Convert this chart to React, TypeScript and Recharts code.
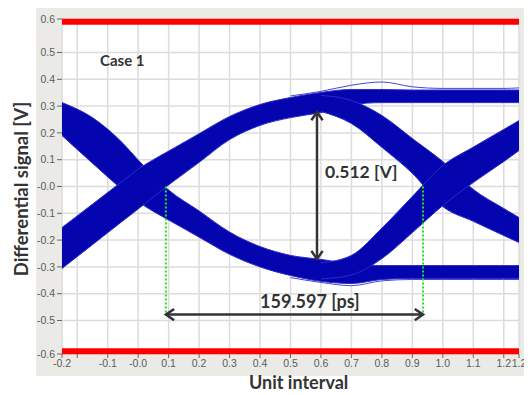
import { ComposedChart, Area, Line, XAxis, YAxis, CartesianGrid, ReferenceLine } from "recharts"

// unit-interval sample positions shared by every band
const uiSteps = [-0.25, -0.15, -0.05, 0, 0.05, 0.1, 0.2, 0.3, 0.4, 0.5, 0.6, 0.7, 0.8, 0.9, 1.0, 1.1, 1.2, 1.25]

// falling edge through the first crossing, then the low level
const fallLeftHigh = [0.313, 0.257, 0.161, 0.099, 0.04, -0.013, -0.091, -0.17, -0.224, -0.257, -0.272, -0.288, -0.295, -0.295, -0.295, -0.295, -0.295, -0.295]
const fallLeftLow = [0.19, 0.087, -0.013, -0.057, -0.093, -0.125, -0.189, -0.253, -0.3, -0.332, -0.354, -0.362, -0.347, -0.343, -0.343, -0.343, -0.343, -0.343]
// rising edge through the first crossing, then the high level
const riseLeftHigh = [-0.153, -0.066, 0.021, 0.065, 0.1, 0.132, 0.197, 0.261, 0.306, 0.332, 0.351, 0.362, 0.362, 0.36, 0.36, 0.36, 0.36, 0.36]
const riseLeftLow = [-0.306, -0.217, -0.128, -0.084, -0.039, 0.006, 0.09, 0.175, 0.228, 0.257, 0.276, 0.305, 0.313, 0.313, 0.313, 0.313, 0.313, 0.313]
// edges through the second crossing
const fallRightHigh = [null, null, null, null, null, null, null, null, null, null, 0.34, 0.321, 0.265, 0.179, 0.093, -0.011, -0.082, -0.116]
const fallRightLow = [null, null, null, null, null, null, null, null, null, null, 0.28, 0.235, 0.146, 0.049, -0.075, -0.13, -0.183, -0.209]
const riseRightHigh = [null, null, null, null, null, null, null, null, null, null, -0.285, -0.257, -0.155, -0.037, 0.078, 0.147, 0.213, 0.246]
const riseRightLow = [null, null, null, null, null, null, null, null, null, null, -0.345, -0.33, -0.269, -0.172, -0.071, 0.015, 0.093, 0.134]
// stray overshoot traces above the high level and below the low level
const overshootTop = [null, null, null, null, null, null, null, null, null, 0.338, 0.355, 0.378, 0.39, 0.372, 0.366, 0.366, 0.366, 0.368]
const overshootBottom = [null, null, null, null, null, null, null, null, null, -0.34, -0.358, -0.37, -0.352, -0.347, -0.347, -0.347, -0.347, -0.347]

const xTicks = [-0.25, -0.2, -0.1, 0, 0.1, 0.2, 0.3, 0.4, 0.5, 0.6, 0.7, 0.8, 0.9, 1.0, 1.1, 1.2, 1.25]
const xTickLabels = ["-0.2", "", "-0.1", "-0.0", "0.1", "0.2", "0.3", "0.4", "0.5", "0.6", "0.7", "0.8", "0.9", "1.0", "1.1", "1.2", "1.2"]
const yTicks = [-0.625, -0.5, -0.4, -0.3, -0.2, -0.1, 0, 0.1, 0.2, 0.3, 0.4, 0.5, 0.625]
const yTickLabels = ["-0.6", "-0.5", "-0.4", "-0.3", "-0.2", "-0.1", "-0.0", "0.1", "0.2", "0.3", "0.4", "0.5", "0.6"]

const maskLimits = [-0.615, 0.615]
const crossingX = [0.091, 0.935]
const eyeHeight = [-0.271, 0.278]
const eyeHeightAt = 0.587
const eyeWidthAt = -0.478

const range = (lo: (number | null)[], hi: (number | null)[], i: number) =>
  lo[i] == null || hi[i] == null ? null : [lo[i], hi[i]]

const rows = uiSteps.map((x, i) => ({
  x,
  fallLeft: range(fallLeftLow, fallLeftHigh, i),
  riseLeft: range(riseLeftLow, riseLeftHigh, i),
  fallRight: range(fallRightLow, fallRightHigh, i),
  riseRight: range(riseRightLow, riseRightHigh, i),
  overTop: overshootTop[i],
  overBottom: overshootBottom[i],
}))

const BLUE = "#0505b0"
const EDGE = "#2a2ac8"
const INK = "#333333"

function DoubleArrow(p: any) {
  const { x1, y1, x2, y2 } = p
  const a = Math.atan2(y2 - y1, x2 - x1)
  const h = 10
  const w = 0.6
  const head = (x: number, y: number, ang: number) =>
    `M${x + h * Math.cos(ang + w)},${y + h * Math.sin(ang + w)} L${x},${y} L${x + h * Math.cos(ang - w)},${y + h * Math.sin(ang - w)}`
  return (
    <g>
      <line x1={x1} y1={y1} x2={x2} y2={y2} stroke={INK} strokeWidth={2.5} />
      <path d={head(x1, y1, a) + " " + head(x2, y2, a + Math.PI)} fill="none" stroke={INK} strokeWidth={2.5} />
    </g>
  )
}

const tickStyle = { fontSize: 10.5, fill: "#56605c", fontFamily: "Liberation Sans, Arial, sans-serif" }
const titleStyle = { position: "absolute" as const, fontFamily: "Lato, sans-serif", fontWeight: 700, color: INK, lineHeight: 1, whiteSpace: "nowrap" as const }

export default function App() {
  return (
    <div style={{ position: "relative", width: 532, height: 395, margin: "-8px 0 0 -8px", background: "#fff" }}>
      <div style={{ position: "absolute", left: 36, top: 8, width: 494, height: 368, background: "#ebeae6" }} />
      <div style={{ position: "absolute", left: 0, top: 0 }}>
        <ComposedChart width={532} height={395} data={rows} margin={{ top: 19, right: 13, bottom: 19, left: 36 }}>
          <CartesianGrid stroke="#dcdcdc" strokeWidth={1.5} fill="#ffffff" />
          <XAxis
            type="number"
            dataKey="x"
            domain={[-0.25, 1.25]}
            ticks={xTicks}
            interval={0}
            height={22}
            tickSize={4}
            tickMargin={2}
            axisLine={false}
            tickLine={{ stroke: "#666" }}
            tick={tickStyle}
            tickFormatter={(v: number) => xTickLabels[xTicks.indexOf(v)] ?? ""}
            allowDataOverflow
          />
          <YAxis
            type="number"
            domain={[-0.625, 0.625]}
            ticks={yTicks}
            interval={0}
            width={26}
            tickSize={5}
            tickMargin={2}
            axisLine={false}
            tickLine={{ stroke: "#666" }}
            tick={tickStyle}
            tickFormatter={(v: number) => yTickLabels[yTicks.indexOf(v)] ?? ""}
            allowDataOverflow
          />
          <Line type="monotone" dataKey="overTop" stroke="#4646d4" strokeWidth={1} dot={false} isAnimationActive={false} />
          <Line type="monotone" dataKey="overBottom" stroke="#4646d4" strokeWidth={1} dot={false} isAnimationActive={false} />
          <Area type="monotone" dataKey="fallLeft" fill={BLUE} fillOpacity={1} stroke={EDGE} strokeWidth={1} isAnimationActive={false} />
          <Area type="monotone" dataKey="riseLeft" fill={BLUE} fillOpacity={1} stroke={EDGE} strokeWidth={1} isAnimationActive={false} />
          <Area type="monotone" dataKey="fallRight" fill={BLUE} fillOpacity={1} stroke={EDGE} strokeWidth={1} isAnimationActive={false} />
          <Area type="monotone" dataKey="riseRight" fill={BLUE} fillOpacity={1} stroke={EDGE} strokeWidth={1} isAnimationActive={false} />
          {maskLimits.map((y) => (
            <ReferenceLine key={y} y={y} stroke="#ff0000" strokeWidth={6} />
          ))}
          {crossingX.map((x) => (
            <ReferenceLine
              key={x}
              segment={[{ x, y: 0 }, { x, y: eyeWidthAt }]}
              stroke="#22e022"
              strokeWidth={2}
              strokeDasharray="2 2"
            />
          ))}
          <ReferenceLine
            segment={[{ x: eyeHeightAt, y: eyeHeight[0] }, { x: eyeHeightAt, y: eyeHeight[1] }]}
            shape={DoubleArrow}
          />
          <ReferenceLine
            segment={[{ x: crossingX[0], y: eyeWidthAt }, { x: crossingX[1], y: eyeWidthAt }]}
            shape={DoubleArrow}
          />
        </ComposedChart>
      </div>
      <div style={{ ...titleStyle, left: 100, top: 53, fontSize: 15 }}>Case 1</div>
      <div style={{ ...titleStyle, left: 325, top: 163, fontSize: 17.5 }}>0.512 [V]</div>
      <div style={{ ...titleStyle, left: 260, top: 292, fontSize: 18 }}>159.597 [ps]</div>
      <div style={{ ...titleStyle, left: 249, top: 373, fontSize: 18 }}>Unit interval</div>
      <div
        style={{
          ...titleStyle,
          left: 21,
          top: 189,
          fontSize: 18.5,
          transform: "translate(-50%, -50%) rotate(-90deg)",
        }}
      >
        Differential signal [V]
      </div>
    </div>
  )
}
